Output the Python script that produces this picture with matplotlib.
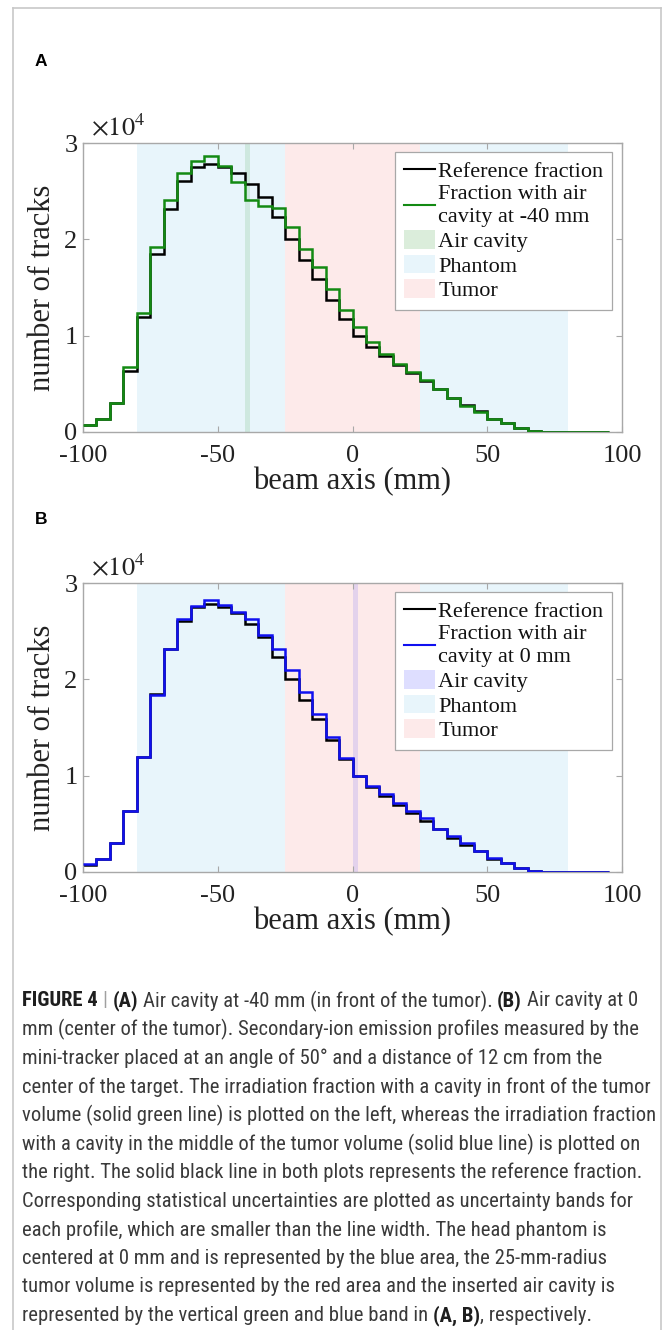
import numpy as np
import matplotlib
matplotlib.use('Agg')
import matplotlib.pyplot as plt
from matplotlib import font_manager as fm
from matplotlib.lines import Line2D
from matplotlib.patches import Patch

# ---------------- data ----------------
bin_edges = [-100, -95, -90, -85, -80, -75, -70, -65, -60, -55,
             -50, -45, -40, -35, -30, -25, -20, -15, -10, -5,
             0, 5, 10, 15, 20, 25, 30, 35, 40, 45,
             50, 55, 60, 65, 70, 75, 80, 85, 90, 95]

reference_tracks = [700, 1350, 3000, 6300, 11900, 18500, 23200, 26100, 27500, 27800,
                    27500, 26850, 25700, 24400, 22350, 20050, 17850, 15900, 13700, 11700,
                    10000, 8800, 7900, 7000, 6100, 5250, 4420, 3580, 2800, 2150,
                    1400, 900, 400, 150, 50, 20, 10, 5, 3]

cavity_m40_tracks = [710, 1360, 3050, 6700, 12400, 19200, 24100, 26900, 28100, 28600,
                     27600, 25900, 24100, 23500, 23300, 21300, 19000, 17100, 14800, 12700,
                     10900, 9300, 8100, 7100, 6200, 5400, 4450, 3500, 2700, 2100,
                     1400, 900, 400, 150, 50, 20, 10, 5, 3]

cavity_0_tracks = [800, 1400, 3000, 6350, 11900, 18400, 23200, 26300, 27600, 28200,
                   27700, 27000, 26300, 24600, 23100, 21000, 18650, 16400, 14000, 11800,
                   10000, 8900, 8100, 7200, 6300, 5600, 4500, 3700, 3000, 2150,
                   1450, 900, 400, 150, 50, 20, 10, 5, 3]

phantom_range = (-80, 80)
tumor_range = (-25, 25)
cavity_A_range = (-40, -38)
cavity_B_range = (0, 2)

x_ticks = [-100, -50, 0, 50, 100]
x_ticklabels = ['-100', '-50', '0', '50', '100']
y_ticks = [0, 10000, 20000, 30000]
y_ticklabels = ['0', '1', '2', '3']

legend_labels_A = ['Reference fraction', 'Fraction with air\ncavity at -40 mm',
                   'Air cavity', 'Phantom', 'Tumor']
legend_labels_B = ['Reference fraction', 'Fraction with air\ncavity at 0 mm',
                   'Air cavity', 'Phantom', 'Tumor']

caption_lines = [
    [("FIGURE 4", 'b'), ("|", 'g'), ("(A)", 'b'),
     ("Air cavity at -40 mm (in front of the tumor).", 'n'), ("(B)", 'b'), ("Air cavity at 0", 'n')],
    [("mm (center of the tumor). Secondary-ion emission profiles measured by the", 'n')],
    [("mini-tracker placed at an angle of 50° and a distance of 12 cm from the", 'n')],
    [("center of the target. The irradiation fraction with a cavity in front of the tumor", 'n')],
    [("volume (solid green line) is plotted on the left, whereas the irradiation fraction", 'n')],
    [("with a cavity in the middle of the tumor volume (solid blue line) is plotted on", 'n')],
    [("the right. The solid black line in both plots represents the reference fraction.", 'n')],
    [("Corresponding statistical uncertainties are plotted as uncertainty bands for", 'n')],
    [("each profile, which are smaller than the line width. The head phantom is", 'n')],
    [("centered at 0 mm and is represented by the blue area, the 25-mm-radius", 'n')],
    [("tumor volume is represented by the red area and the inserted air cavity is", 'n')],
    [("represented by the vertical green and blue band in", 'n'), ("(A, B)", 'b'), (", respectively.", 'c')],
]

# ---------------- style ----------------
W, H = 665, 1330
plt.rcParams['font.family'] = ['Liberation Serif', 'DejaVu Serif']
plt.rcParams['mathtext.fontset'] = 'stix'

names = {f.name for f in fm.fontManager.ttflist}
cap_family, cap_stretch = None, 'normal'
for n in ['Liberation Sans Narrow', 'Arial Narrow', 'Roboto Condensed', 'Open Sans Condensed']:
    if n in names:
        cap_family = n
        break
if cap_family is None:
    if any(f.name == 'DejaVu Sans' and str(f.stretch) == 'condensed' for f in fm.fontManager.ttflist):
        cap_family, cap_stretch = 'DejaVu Sans', 'condensed'
    else:
        cap_family = 'Liberation Sans'

phantom_col = '#E8F5FB'
tumor_col = '#FDEAEA'
green = '#138A13'
blue = '#1010F0'
spine_col = '#A8A8A8'
tick_lab_col = '#222222'


def fx(x):
    return x / W


def fy(y):
    return 1 - y / H


fig = plt.figure(figsize=(W / 100, H / 100), dpi=100)
fig.patch.set_facecolor('white')

# frame lines (open at bottom)
fig.add_artist(Line2D([fx(12.5), fx(12.5)], [0, fy(7.5)], transform=fig.transFigure, color='#C8C8C8', lw=1.2))
fig.add_artist(Line2D([fx(12.5), fx(661)], [fy(7.5), fy(7.5)], transform=fig.transFigure, color='#C8C8C8', lw=1.2))
fig.add_artist(Line2D([fx(661), fx(661)], [0, fy(7.5)], transform=fig.transFigure, color='#C8C8C8', lw=1.2))

ax_left, ax_right = 83, 622
panels = [
    dict(top=143, bottom=432, label='A', label_y=62, series=cavity_m40_tracks, color=green,
         cav=cavity_A_range, cav_rgb=(0, 0.5, 0), cav_alpha=0.11, labels=legend_labels_A),
    dict(top=583, bottom=872, label='B', label_y=519, series=cavity_0_tracks, color=blue,
         cav=cavity_B_range, cav_rgb=(0, 0, 1), cav_alpha=0.10, labels=legend_labels_B),
]

for p in panels:
    ax = fig.add_axes([fx(ax_left), fy(p['bottom']), (ax_right - ax_left) / W, (p['bottom'] - p['top']) / H])
    ax.axvspan(*phantom_range, color=phantom_col, lw=0, zorder=0)
    ax.axvspan(*tumor_range, color=tumor_col, lw=0, zorder=0.5)
    ax.axvspan(*p['cav'], color=p['cav_rgb'], alpha=p['cav_alpha'], lw=0, zorder=0.8)
    ax.stairs(reference_tracks, bin_edges, baseline=None, color='black', lw=1.8, zorder=2)
    ax.stairs(p['series'], bin_edges, baseline=None, color=p['color'], lw=1.8, zorder=3)
    ax.set_xlim(-100, 100)
    ax.set_ylim(0, 30000)
    ax.set_xticks(x_ticks)
    ax.set_xticklabels(x_ticklabels)
    ax.set_yticks(y_ticks)
    ax.set_yticklabels(y_ticklabels)
    ax.tick_params(axis='both', direction='in', length=4, width=0.8, color=spine_col,
                   top=True, right=True, labelsize=19, labelcolor=tick_lab_col)
    ax.tick_params(axis='x', pad=9)
    ax.tick_params(axis='y', pad=4)
    for s in ax.spines.values():
        s.set_color(spine_col)
        s.set_linewidth(1.0)
    ax.set_facecolor('white')

    handles = [Line2D([], [], color='black', lw=1.5),
               Line2D([], [], color=p['color'], lw=1.5),
               Patch(facecolor=p['cav_rgb'], alpha=p['cav_alpha'] * 1.3, edgecolor='none'),
               Patch(facecolor=phantom_col, edgecolor='none'),
               Patch(facecolor=tumor_col, edgecolor='none')]
    leg = ax.legend(handles, p['labels'], loc='upper right',
                    bbox_to_anchor=(fx(612), fy(p['top'] + 9)), bbox_transform=fig.transFigure,
                    borderaxespad=0, fontsize=16, frameon=True, fancybox=False,
                    edgecolor=spine_col, framealpha=1, handlelength=1.42, handleheight=0.9,
                    handletextpad=0.15, labelspacing=0.12, borderpad=0.38)
    leg.get_frame().set_linewidth(0.9)
    for t in leg.get_texts():
        t.set_linespacing(1.32)
        t.set_color('#111111')

    # exponent label
    fig.text(fx(91), fy(p['top'] - 8), r'$\times10^{4}$', fontsize=19, ha='left', va='baseline',
             color=tick_lab_col)
    # axis labels
    fig.text(fx(43), fy((p['top'] + p['bottom']) / 2), 'number of tracks', fontsize=22,
             rotation=90, ha='center', va='center', color=tick_lab_col)
    fig.text(fx((ax_left + ax_right) / 2), fy(p['bottom'] + 50), 'beam axis (mm)', fontsize=22,
             ha='center', va='center', color=tick_lab_col)
    # panel letter
    fig.text(fx(35), fy(p['label_y']), p['label'], family='Liberation Sans', fontweight='bold',
             fontsize=12.5, ha='left', va='center', color='black')

# ---------------- caption ----------------
fig.canvas.draw()
renderer = fig.canvas.get_renderer()
cap_col = '#3A3A3A'


def seg_props(kind):
    if kind == 'b':
        return dict(fontweight='bold', color='#1E1E1E')
    if kind == 'g':
        return dict(fontweight='normal', color='#A0A0A0')
    return dict(fontweight='normal', color=cap_col)


def measure(txt, kind, size):
    t = fig.text(0, 0, txt, fontsize=size, family=cap_family, fontstretch=cap_stretch, **seg_props(kind))
    w = t.get_window_extent(renderer).width
    t.remove()
    return w


def line_width(segs, size):
    sp = measure('a a', 'n', size) - measure('aa', 'n', size)
    total = 0
    for i, (txt, kind) in enumerate(segs):
        if i > 0 and kind != 'c':
            total += sp
        total += measure(txt, kind, size)
    return total


cap_x0 = 22
base = 10.0
w_widest = max(line_width(segs, base) for segs in caption_lines)
cap_size = base * (649 - cap_x0) / w_widest
space_w = measure('a a', 'n', cap_size) - measure('aa', 'n', cap_size)

y0, dy = 1001, 28.6
for li, segs in enumerate(caption_lines):
    x = cap_x0
    for i, (txt, kind) in enumerate(segs):
        if i > 0 and kind != 'c':
            x += space_w
        t = fig.text(fx(x), fy(y0 + li * dy), txt, fontsize=cap_size, family=cap_family,
                     fontstretch=cap_stretch, ha='left', va='center', **seg_props(kind))
        x += t.get_window_extent(renderer).width

fig.savefig('out.png', dpi=100, facecolor='white')
